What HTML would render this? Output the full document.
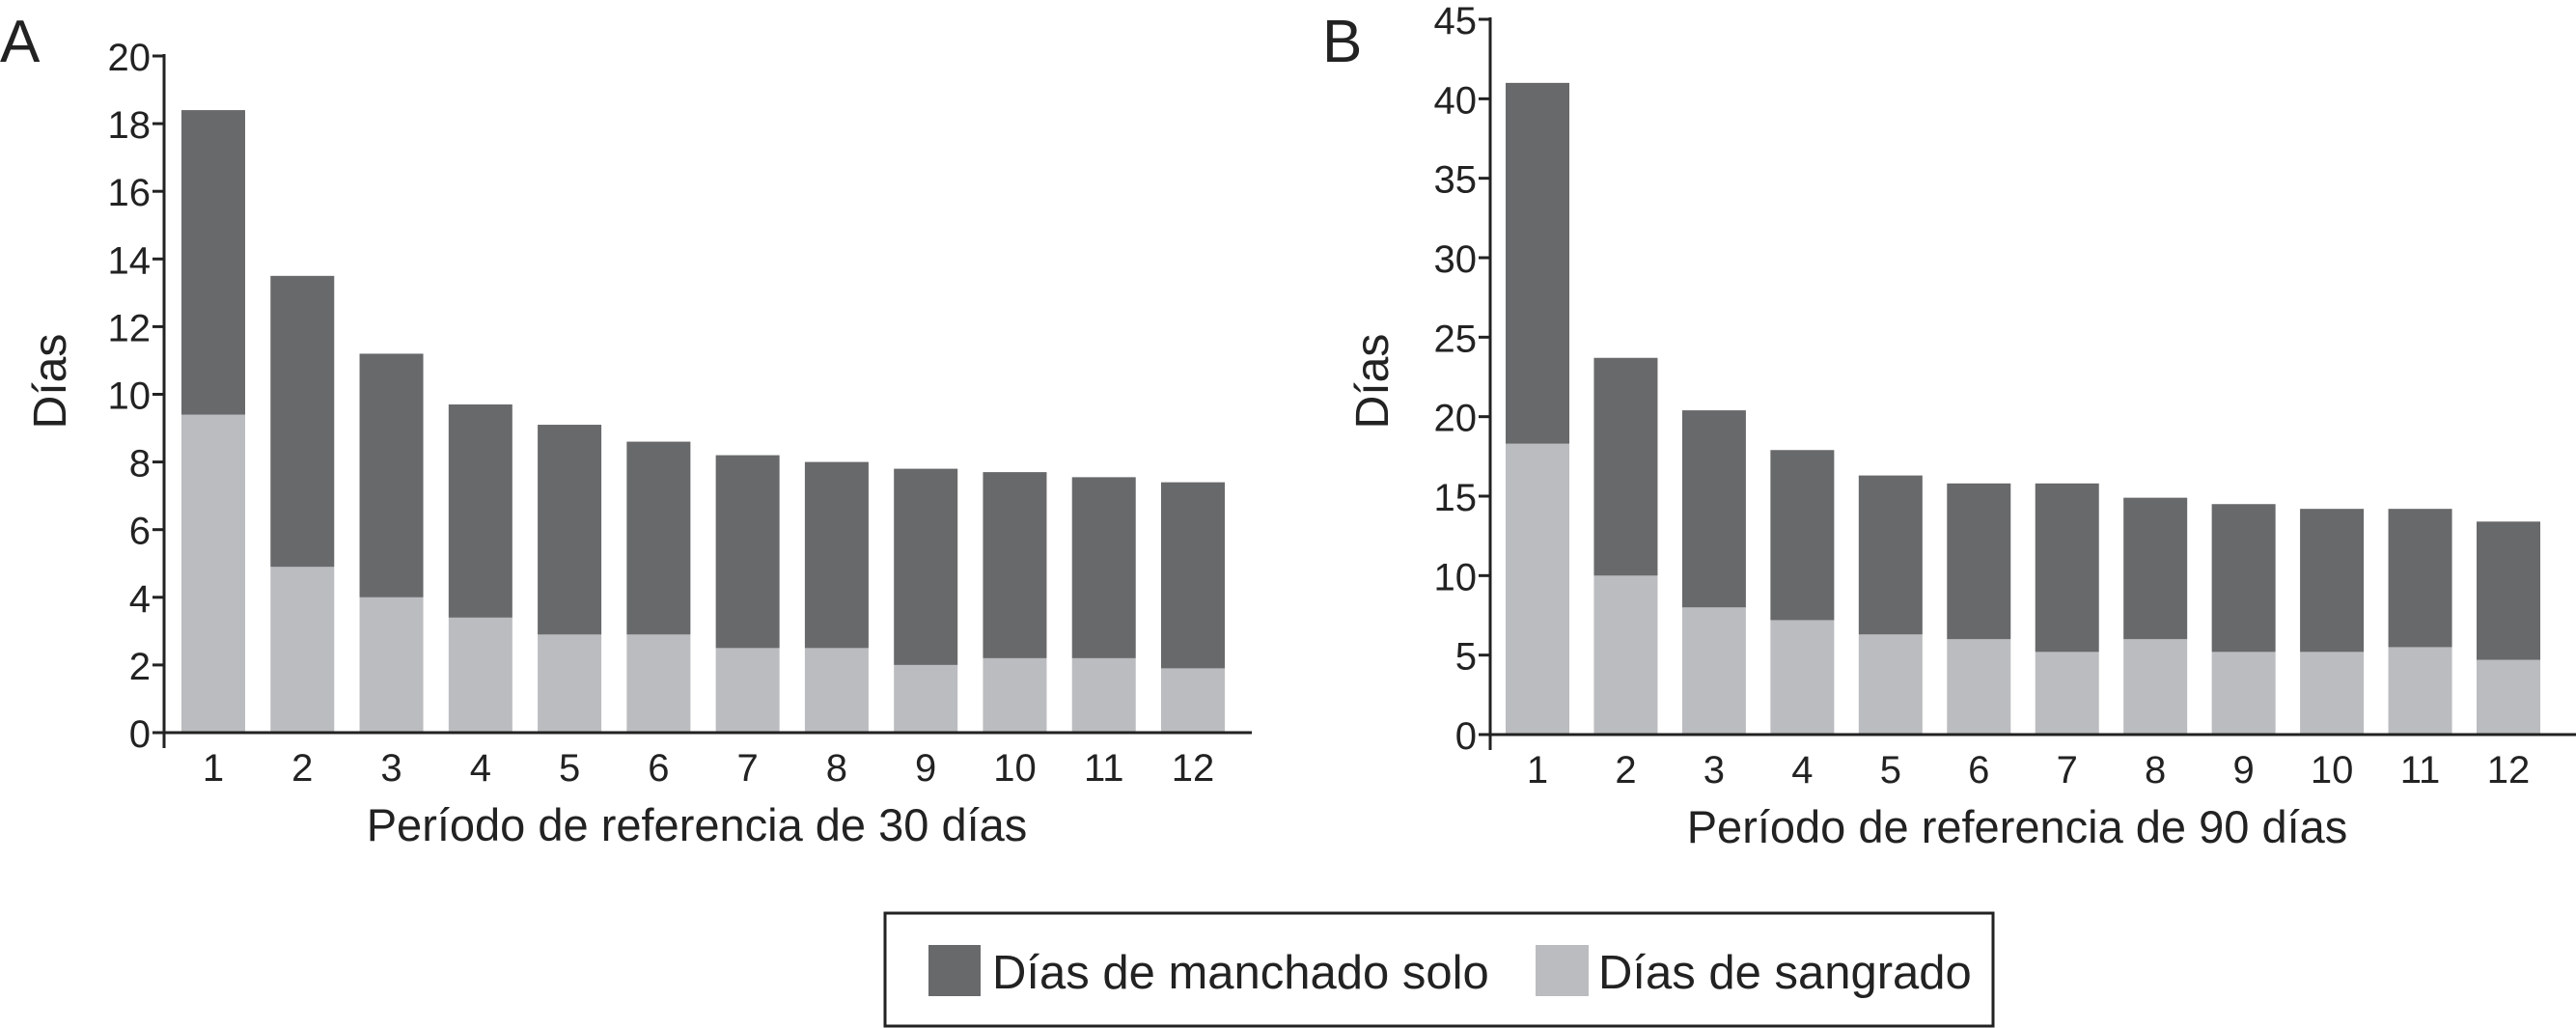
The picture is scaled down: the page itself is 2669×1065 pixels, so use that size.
<!DOCTYPE html>
<html><head><meta charset="utf-8"><style>
html,body{margin:0;padding:0;background:#fff;}
svg{display:block;font-family:"Liberation Sans Narrow","Liberation Sans",sans-serif;}
</style></head><body>
<svg width="2669" height="1065" viewBox="0 0 2669 1065">
<g id="gA"></g>
<g id="gB"></g>
<g>
<rect x="917" y="946" width="1148" height="117" fill="#fff" stroke="#222" stroke-width="3"/>
<rect x="962" y="979" width="54" height="53" fill="#68696b"/>
<text x="1028" y="1024" font-size="49" fill="#222">Días de manchado solo</text>
<rect x="1591" y="979" width="55" height="53" fill="#bbbcbf"/>
<text x="1656" y="1024" font-size="49" fill="#222">Días de sangrado</text>
</g>
</svg>
<script>
const categories = ["1","2","3","4","5","6","7","8","9","10","11","12"];
const totalA = [18.4,13.5,11.2,9.7,9.1,8.6,8.2,8.0,7.8,7.7,7.55,7.4];
const bleedA = [9.4,4.9,4.0,3.4,2.9,2.9,2.5,2.5,2.0,2.2,2.2,1.9];
const ticksA = [0,2,4,6,8,10,12,14,16,18,20];
const totalB = [41,23.7,20.4,17.9,16.3,15.8,15.8,14.9,14.5,14.2,14.2,13.4];
const bleedB = [18.3,10,8,7.2,6.3,6.0,5.2,6.0,5.2,5.2,5.5,4.7];
const ticksB = [0,5,10,15,20,25,30,35,40,45];
const NS="http://www.w3.org/2000/svg";
function mk(parent,tag,attrs,text){const e=document.createElementNS(NS,tag);for(const k in attrs)e.setAttribute(k,attrs[k]);if(text!==undefined)e.textContent=text;parent.appendChild(e);return e;}
function panel(gid,cfg,total,bleed,ticks){
  const g=document.getElementById(gid);
  const y=v=>cfg.y0-(v/cfg.max)*(cfg.y0-cfg.yTop);
  const x=i=>cfg.c0+i*(cfg.c1-cfg.c0)/(categories.length-1);
  const bw=66;
  categories.forEach((c,i)=>{
    let r=mk(g,'rect',{x:x(i)-bw/2,y:y(bleed[i]),width:bw,height:y(0)-y(bleed[i]),fill:'#bbbcbf'});
    
    
    r=mk(g,'rect',{x:x(i)-bw/2,y:y(total[i]),width:bw,height:y(bleed[i])-y(total[i]),fill:'#68696b'});
    
    
    const t=mk(g,'text',{x:x(i),y:cfg.y0+50,'font-size':40,'text-anchor':'middle',fill:'#222'},c);
    
    
  });
  ticks.forEach(v=>{
    const l=mk(g,'line',{x1:cfg.ax-12,x2:cfg.ax,y1:y(v),y2:y(v),stroke:'#222','stroke-width':3});
    
    
    const t=mk(g,'text',{x:cfg.ax-14,y:y(v)+15,'font-size':40,'text-anchor':'end',fill:'#222'},String(v));
    
    
  });
  let a=mk(g,'line',{x1:cfg.ax,x2:cfg.ax,y1:cfg.yTop-2,y2:cfg.y0+16,stroke:'#222','stroke-width':3});
  
  
  a=mk(g,'line',{x1:cfg.ax,x2:cfg.xEnd,y1:cfg.y0,y2:cfg.y0,stroke:'#222','stroke-width':3});
  
  
  let t=mk(g,'text',{x:cfg.titleX,y:cfg.y0+112,'font-size':47,'text-anchor':'middle',fill:'#222'},cfg.title);
  
  
  t=mk(g,'text',{x:0,y:0,'font-size':48,'text-anchor':'middle',fill:'#222',transform:`translate(${cfg.ylabX},395) rotate(-90)`},'Días');
  
  
  t=mk(g,'text',{x:cfg.letterX,y:64,'font-size':62,fill:'#222'},cfg.letter);
  
  
}
panel('gA',{y0:759,yTop:58,max:20,ax:170,xEnd:1297,c0:221,c1:1236,title:'Período de referencia de 30 días',titleX:722,ylabX:68,letterX:0,letter:'A'},totalA,bleedA,ticksA);
panel('gB',{y0:761,yTop:20,max:45,ax:1544,xEnd:2669,c0:1593,c1:2599,title:'Período de referencia de 90 días',titleX:2090,ylabX:1438,letterX:1370,letter:'B'},totalB,bleedB,ticksB);
</script>
</body></html>
